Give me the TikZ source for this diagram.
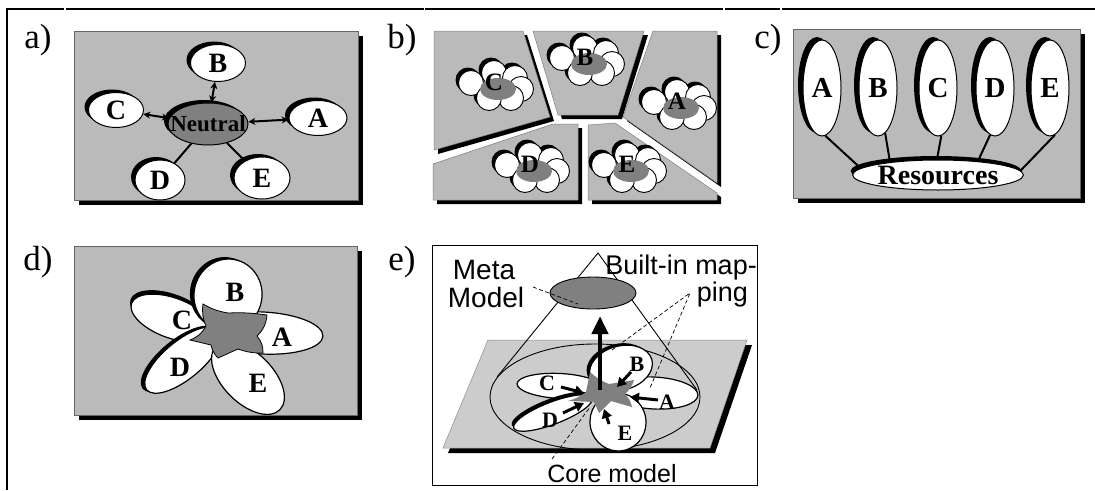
\documentclass[tikz,border=0pt]{standalone}
\usepackage{fontspec}
\setmainfont{Liberation Serif}
\setsansfont{Liberation Sans}
\usetikzlibrary{shapes.geometric,arrows.meta,shadows}
\definecolor{halftone}{gray}{0.73}
\definecolor{darkdot}{gray}{0.5}
\definecolor{planedot}{gray}{0.8}
\tikzset{
  rule/.style={line width=2.4pt},
  tag/.style={font=\fontsize{35}{35}\selectfont, inner sep=0pt},
  panel/.style={fill=halftone, draw=black!60, line width=0.6pt},
  bubble/.style={ellipse, draw=black, line width=1pt, fill=white, inner sep=0pt,
    font=\bfseries\fontsize{28}{28}\selectfont},
  tlshadow/.style={general shadow={fill=black, shadow xshift=-4pt, shadow yshift=3pt}},
  link/.style={line width=2pt, {Stealth[length=7pt,width=7pt]}-{Stealth[length=7pt,width=7pt]}},
  spoke/.style={line width=2pt},
  cell/.style={fill=halftone, draw=black!50, line width=0.5pt},
  letter/.style={font=\bfseries\fontsize{25}{25}\selectfont, inner sep=0pt},
  petal letter/.style={font=\bfseries\fontsize{28}{28}\selectfont, inner sep=0pt},
  small letter/.style={font=\bfseries\fontsize{22}{22}\selectfont, inner sep=0pt},
  petal/.style={fill=white, draw=black, line width=1.2pt},
  sans/.style={font=\sffamily\fontsize{27}{27}\selectfont, inner sep=0pt},
  hint/.style={dash pattern=on 4pt off 2.5pt, line width=0.7pt},
  push/.style={line width=3pt, -{Triangle[length=9pt,width=10pt]}},
  lift/.style={line width=4.5pt, -{Triangle[length=18pt,width=16pt]}},
}
% rotated ellipse: style, centre x, centre y, half axis along, half axis across, angle (clockwise)
\newcommand{\leaf}[6]{\path[#1, shift={(#2,#3)}, rotate={0-(#6)}] (0,0) ellipse[x radius=#4, y radius=#5];}
% cluster of overlapping discs round a shaded core, with its letter
\newcommand{\bloom}[4]{%
  \begin{scope}[shift={(#1,#2)}]
    \foreach \cx/\cy in {-26/-5,-3/-15,18/-10,24/1,14/10,-8/10}
      {\fill[black] (\cx-3,\cy-3) circle[radius=12.5];}
    \foreach \cx/\cy in {-26/-5,-3/-15,18/-10,24/1,14/10,-8/10}
      {\draw[line width=0.9pt, fill=white] (\cx,\cy) circle[radius=12.5];}
    \fill[darkdot] (1,1) ellipse[x radius=18, y radius=11];
  \end{scope}
  \node[letter] (#4) at (#1-3,#2-6) {#3};}
\begin{document}
\begin{tikzpicture}[x=1pt,y=-1pt]
\useasboundingbox (0,0) rectangle (1095,490);

% table rules
\draw[rule] (7,7.5) -- (7,490);
\foreach \a/\b in {6/64.3,65.7/423.7,425.3/723.3,724.7/780.3,781.7/1095}
  {\draw[rule] (\a,8.7) -- (\b,8.7);}

% ---------------- a) neutral hub ----------------
\node[tag] (la) at (38,40) {a)};
\fill[black] (79,36) rectangle (363,205);
\draw[panel] (74,31) rectangle (358,200);
\node[bubble, tlshadow, minimum width=80pt, minimum height=42pt, fill=darkdot,
  inner xsep=-22pt, font=\bfseries\fontsize{23}{23}\selectfont] (aN) at (208,124) {Neutral};
\node[bubble, tlshadow, minimum width=55pt, minimum height=37pt] (aB) at (218,63) {B};
\node[bubble, tlshadow, minimum width=55pt, minimum height=35pt] (aC) at (116,110) {C};
\node[bubble, tlshadow, minimum width=58pt, minimum height=35pt] (aA) at (318,118) {A};
\node[bubble, tlshadow, minimum width=50pt, minimum height=40pt] (aD) at (160,180) {D};
\node[bubble, tlshadow, minimum width=56pt, minimum height=42pt] (aE) at (262,178) {E};
\draw[link] (aB) -- (aN);
\draw[link] (aC) -- (aN);
\draw[link] (aA) -- (aN);
\draw[spoke] (aD) -- (aN);
\draw[spoke] (aE) -- (aN);

% ---------------- b) separate pieces ----------------
\node[tag] (lb) at (402,40) {b)};
\begin{scope}[shift={(4,4)}]
  \fill[black] (434,31) -- (523,31) -- (550,117) -- (434,150) -- cycle;
  \fill[black] (533,31) -- (644,31) -- (618,115) -- (558,115) -- cycle;
  \fill[black] (653,31) -- (717,31) -- (717,183) -- (623,117) -- cycle;
  \fill[black] (433,164) -- (553,124) -- (578,124) -- (578,200) -- (433,200) -- cycle;
  \fill[black] (588,125) -- (615,123) -- (717,193) -- (717,200) -- (588,200) -- cycle;
\end{scope}
\path[cell] (434,31) -- (523,31) -- (550,117) -- (434,150) -- cycle;
\path[cell] (533,31) -- (644,31) -- (618,115) -- (558,115) -- cycle;
\path[cell] (653,31) -- (717,31) -- (717,183) -- (623,117) -- cycle;
\path[cell] (433,164) -- (553,124) -- (578,124) -- (578,200) -- (433,200) -- cycle;
\path[cell] (588,125) -- (615,123) -- (717,193) -- (717,200) -- (588,200) -- cycle;
\bloom{497}{88}{C}{bC}
\bloom{588}{63}{B}{bB}
\bloom{680}{107}{A}{bA}
\bloom{533}{170}{D}{bD}
\bloom{630}{170}{E}{bE}

% ---------------- c) shared resources ----------------
\node[tag] (lc) at (768,40) {c)};
\fill[black] (798,34) rectangle (1085,203);
\draw[panel] (793,29) rectangle (1080,198);
\foreach \n/\x in {A/822,B/878,C/938,D/995,E/1050}
  {\node[bubble, general shadow={fill=black, shadow xshift=-5pt, shadow yshift=3pt},
     minimum width=38pt, minimum height=96pt, font=\bfseries\fontsize{29}{29}\selectfont] (c\n) at (\x,88) {\n};}
\node[bubble, general shadow={fill=black, shadow xshift=-2pt, shadow yshift=4pt},
  minimum width=168pt, minimum height=30pt, text height=19pt, text depth=0pt,
  font=\bfseries\fontsize{28}{28}\selectfont] (res) at (938,175) {Resources};
\draw[spoke] (cA.-86) -- (res.175);
\draw[spoke] (cB.-81) -- (res.165);
\draw[spoke] (cC.-86) -- (res.94);
\draw[spoke] (cD.-96) -- (res.19);
\draw[spoke] (cE.-84) -- (res.3);

% ---------------- d) overlapping petals ----------------
\node[tag] (ld) at (38,262) {d)};
\fill[black] (79,251) rectangle (362,420);
\draw[panel] (74,246) rectangle (357,415);
\leaf{petal}{263}{333}{60}{21}{3}
\leaf{fill=black}{171}{314}{43}{20}{20}
\leaf{petal}{172}{318}{43}{20}{20}
\leaf{fill=black}{179}{359}{47}{19}{-39.4}
\leaf{petal}{183}{360}{47}{19}{-39.4}
\leaf{petal}{248}{378}{45}{25}{45}
\leaf{fill=black}{224}{293}{36}{34}{100}
\leaf{petal}{228}{295}{36}{34}{100}
\path[fill=darkdot, draw=black, line width=0.8pt]
  (203,304) to[bend right=10] (228,313) to[bend left=5] (267,315)
  to[bend left=20] (257,336) to[bend left=20] (263,353)
  to[bend left=10] (238,349) -- (218,358)
  to[bend left=15] (211,345) -- (190,340)
  to[bend right=20] (206,326) to[bend left=15] cycle;
\node[petal letter] (dB) at (235,292) {B};
\node[petal letter] (dC) at (182,320) {C};
\node[petal letter] (dA) at (282,337) {A};
\node[petal letter] (dD) at (180,367) {D};
\node[petal letter] (dE) at (258,383) {E};

% ---------------- e) core model under a meta model ----------------
\node[tag] (le) at (402,262) {e)};
\draw[line width=0.8pt, fill=white] (432,245) rectangle (757,485);
\fill[black] (493,345) -- (752,345) -- (715,453) -- (448,453) -- cycle;
\path[fill=planedot, draw=black!45, line width=0.5pt] (488,340) -- (747,340) -- (710,448) -- (443,448) -- cycle;
\coordinate (apex) at (598,253);
\draw[line width=0.9pt] (497,377) -- (apex) -- (697,390);
\draw[line width=0.9pt] (595,397) ellipse[x radius=105, y radius=53];
\draw[line width=0.9pt, fill=darkdot] (593,293) ellipse[x radius=43, y radius=16];
\coordinate (metaCore) at (593,293);
\leaf{petal}{654}{393}{44}{16}{3}
\leaf{petal}{560}{386}{43}{12.5}{3}
\leaf{fill=black}{551}{410}{42}{11}{-21}
\leaf{petal}{553}{413}{42}{11}{-21}
\leaf{petal}{618}{422}{29}{28}{80}
\leaf{fill=black}{618}{366}{32}{22}{-15}
\leaf{petal}{621}{368}{32}{22}{-15}
\path[fill=darkdot]
  (590,372) to[bend right=10] (609,384) -- (634,380) to[bend left=15] (625,394)
  to[bend left=15] (632,407) -- (611,401)
  -- (599,413) -- (594,402) -- (568,401) to[bend right=10] (586,392) -- cycle;
\coordinate (hub) at (600,390);
\coordinate (hubTop) at (600,316);
\draw[lift] (hub) -- (hubTop);
\coordinate (tC) at (561,387); \coordinate (hC) at (584,393);
\coordinate (tB) at (631,372); \coordinate (hB) at (617,387);
\coordinate (tA) at (658,400); \coordinate (hA) at (630,397);
\coordinate (tD) at (563,413); \coordinate (hD) at (584,403);
\coordinate (tE) at (609,424); \coordinate (hE) at (604,409);
\foreach \p in {C,B,A,D,E} {\draw[push] (t\p) -- (h\p);}
\node[small letter] (eC) at (547,383) {C};
\node[small letter] (eB) at (637,364) {B};
\node[small letter] (eA) at (667,402) {A};
\node[small letter] (eD) at (550,420) {D};
\node[small letter] (eE) at (625,433) {E};
\node[sans, font=\sffamily\fontsize{28}{28}\selectfont, anchor=base] (meta1) at (484,279) {Meta};
\node[sans, font=\sffamily\fontsize{28}{28}\selectfont, anchor=base] (meta2) at (486,307) {Model};
\node[sans, anchor=base east] (map1) at (757,274) {Built-in map-};
\node[sans, anchor=base east] (map2) at (748,301) {ping};
\node[sans, font=\sffamily\fontsize{25}{25}\selectfont, anchor=base] (coreLbl) at (612,482) {Core model};
\coordinate (metaTail) at (533,287); \coordinate (metaIn) at (578,304);
\coordinate (mapTail) at (690,293); \coordinate (mapIn1) at (612,350); \coordinate (mapIn2) at (650,388);
\coordinate (coreTail) at (552,459); \coordinate (coreIn) at (590,407);
\draw[hint] (metaTail) -- (metaIn);
\draw[hint] (mapIn1) -- (mapTail) -- (mapIn2);
\draw[hint] (coreTail) -- (coreIn);
\end{tikzpicture}
\end{document}
